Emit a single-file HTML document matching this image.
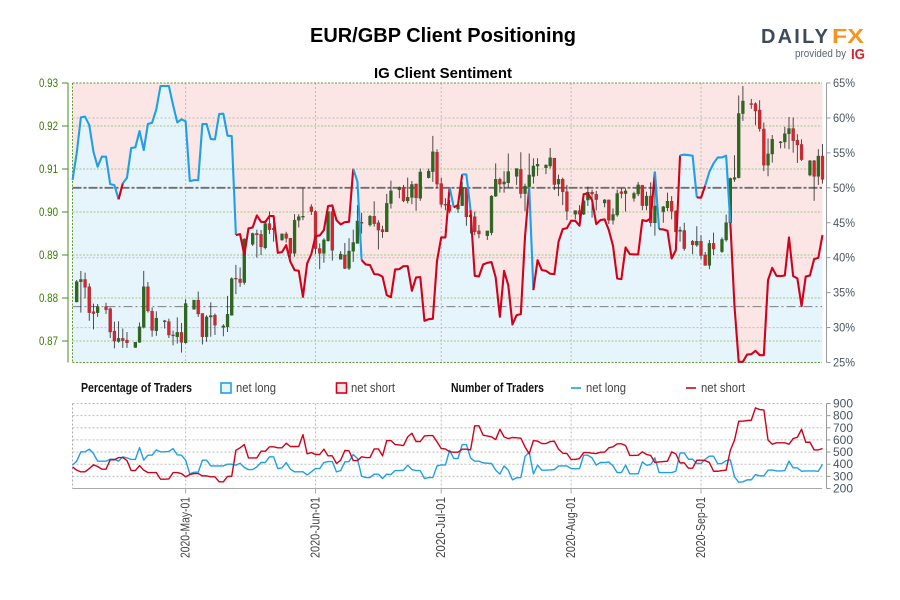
<!DOCTYPE html>
<html lang="en">
<head>
<meta charset="utf-8">
<title>EUR/GBP Client Positioning</title>
<style>
html,body{margin:0;padding:0;background:#fff;width:900px;height:600px;overflow:hidden}
svg{display:block}
text{font-family:"Liberation Sans Narrow","Liberation Sans",sans-serif}
.wide{font-family:"Liberation Sans",sans-serif}
</style>
</head>
<body>
<svg id="chart" xmlns="http://www.w3.org/2000/svg" width="900" height="600" viewBox="0 0 900 600">
  <text class="wide" x="310" y="42" font-size="20" font-weight="bold" fill="#000" textLength="266" lengthAdjust="spacingAndGlyphs">EUR/GBP Client Positioning</text>
  <text class="wide" x="374" y="78" font-size="15" font-weight="bold" fill="#000" textLength="138" lengthAdjust="spacingAndGlyphs">IG Client Sentiment</text>

  <g>
    <text class="wide" x="761" y="43" font-size="20" font-weight="bold" fill="#3f4a5a" textLength="67" lengthAdjust="spacing">DAILY</text>
    <text class="wide" x="832" y="43" font-size="20" font-weight="bold" fill="#f7941d" textLength="32" lengthAdjust="spacingAndGlyphs">FX</text>
    <text class="wide" x="795" y="57" font-size="11" fill="#5b6570" textLength="51" lengthAdjust="spacingAndGlyphs">provided by</text>
    <text class="wide" x="851" y="59" font-size="15" font-weight="bold" fill="#d9202c" textLength="14" lengthAdjust="spacingAndGlyphs">IG</text>
  </g>

  <g id="main-panel"></g>

  <g>
    <text x="81" y="392" font-size="12.5" font-weight="bold" fill="#111" textLength="111" lengthAdjust="spacingAndGlyphs">Percentage of Traders</text>
    <rect x="221" y="383" width="10" height="10" fill="#e6f4fc" stroke="#1fa0e6" stroke-width="1.6"/>
    <text x="236" y="392" font-size="12.5" fill="#444" textLength="40" lengthAdjust="spacingAndGlyphs">net long</text>
    <rect x="336.500" y="383" width="10" height="10" fill="#fbe5e5" stroke="#d0021b" stroke-width="1.6"/>
    <text x="351" y="392" font-size="12.5" fill="#444" textLength="44" lengthAdjust="spacingAndGlyphs">net short</text>
    <text x="451" y="392" font-size="12.5" font-weight="bold" fill="#111" textLength="93" lengthAdjust="spacingAndGlyphs">Number of Traders</text>
    <line x1="571" x2="581" y1="388" y2="388" stroke="#1fa0e6" stroke-width="1.6"/>
    <text x="586" y="392" font-size="12.5" fill="#444" textLength="40" lengthAdjust="spacingAndGlyphs">net long</text>
    <line x1="686" x2="696" y1="388" y2="388" stroke="#d0021b" stroke-width="1.6"/>
    <text x="701" y="392" font-size="12.5" fill="#444" textLength="44" lengthAdjust="spacingAndGlyphs">net short</text>
  </g>

  <g id="lower-panel"></g>
</svg>

<script>
// ---- axis tick data ----
const dateLabels = ["2020-May-01","2020-Jun-01","2020-Jul-01","2020-Aug-01","2020-Sep-01"];
const dateDays = [27,58,88,119,150];
const priceTicks = [9300,9200,9100,9000,8900,8800,8700];
const priceTickLabels = ["0.93","0.92","0.91","0.90","0.89","0.88","0.87"];
const pctTicks = [65,60,55,50,45,40,35,30,25];
const pctGridTicks = [60,40,30];
const countTicks = [900,800,700,600,500,400,300,200];

// ---- candles: prices in pips (value / 10000) ----
const candleDays = [1,2,3,4,5,6, 8,9,10,11,12,13, 15,16,17,18,19,20, 22,23,24,25,26,27, 29,30,31,32,33,34, 36,37,38,39,40,41, 43,44,45,46,47,48, 50,51,52,53,54,55, 57,58,59,60,61,62, 64,65,66,67,68,69, 71,72,73,74,75,76, 78,79,80,81,82,83, 85,86,87,88,89,90, 92,93,94,95,96,97, 99,100,101,102,103,104, 106,107,108,109,110,111, 113,114,115,116,117,118, 120,121,122,123,124,125, 127,128,129,130,131,132, 134,135,136,137,138,139, 141,142,143,144,145,146, 148,149,150,151,152,153, 155,156,157,158,159,160, 162,163,164,165,166,167, 169,170,171,172,173,174, 176,177,178,179];
const candleOpen = [8791,8838,8843,8826,8768,8766, 8780,8775,8723,8699,8706,8702, 8685,8697,8732,8826,8769,8724, 8745,8745,8714,8710,8720,8696, 8774,8795,8764,8710,8756,8760, 8732,8733,8760,8846,8844,8836, 8925,8950,8948,8917,8973,8962, 8935,8949,8939,8904,8981,8989, 9012,9001,8915,8904,8933,9001, 8890,8900,8869,8909,8927,8976, 8970,8990,8975,8959,8954,9020, 9052,9057,9026,9034,9065,9032, 9080,9094,9139,9066,9018,9016, 9007,9015,9057,8989,8989,8956, 8945,8952,9037,9076,9065,9068, 9083,9099,9043,9059,9083,9107, 9103,9107,9125,9065,9076,9047, 8995,9003,8995,9028,9046,9041, 9021,9028,8981,8993,9047,9043, 9032,9042,9062,9015,9037,8975, 9001,9010,9025,9002,8955,8957, 8932,8923,8932,8900,8876,8927, 8908,8935,8975,9076,9080,9229, 9252,9252,9237,9193,9109,9135, 9161,9163,9182,9194,9167,9157, 9086,9119,9083,9130];
const candleClose = [8838,8843,8825,8766,8764,8780, 8773,8721,8700,8706,8701,8696, 8697,8733,8826,8770,8725,8753, 8747,8714,8712,8720,8697,8787, 8795,8763,8710,8756,8759,8737, 8735,8762,8845,8845,8836,8937, 8950,8947,8919,8973,8959,8959, 8949,8939,8904,8981,8989,8990, 9001,8915,8904,8935,9001,8911, 8902,8869,8909,8929,8979,8974, 8990,8973,8958,8954,9020,9049, 9057,9026,9034,9064,9033,9093, 9095,9140,9065,9018,9016,9002, 9016,9056,8989,8993,8954,8949, 8956,9037,9076,9065,9070,9094, 9101,9043,9060,9086,9107,9111, 9109,9126,9064,9076,9047,9002, 9003,8995,9026,9046,9042,9029, 9028,8981,8994,9043,9043,9049, 9043,9063,9015,9037,8975,9014, 9012,9025,9002,8954,8958,8915, 8924,8932,8899,8876,8927,8914, 8936,8975,9078,9080,9229,9258, 9250,9235,9194,9109,9135,9169, 9163,9182,9194,9166,9156,9122, 9119,9083,9130,9076];
const candleHigh = [8842,8863,8859,8834,8787,8786, 8789,8778,8745,8746,8729,8721, 8697,8743,8863,8837,8778,8769, 8749,8752,8724,8755,8742,8797, 8795,8815,8764,8760,8790,8764, 8739,8805,8848,8877,8871,8939, 8952,8959,8958,8981,9001,8990, 8950,8954,8939,8995,8995,9056, 9018,9004,8927,8939,9001,9016, 8909,8928,8939,8959,9016,8998, 8993,9025,8981,8968,9042,9073, 9059,9063,9080,9072,9066,9101, 9101,9177,9146,9080,9032,9028, 9020,9070,9057,9001,9001,8970, 8956,9039,9113,9080,9095,9136, 9101,9139,9066,9136,9125,9125, 9111,9149,9126,9087,9080,9063, 9004,9016,9035,9059,9052,9049, 9030,9029,9008,9052,9055,9055, 9047,9070,9063,9047,9069,9094, 9014,9045,9037,9004,8966,8975, 8935,8967,8946,8907,8935,8952, 8941,8994,9080,9132,9271,9293, 9263,9255,9260,9208,9171,9179, 9165,9198,9221,9220,9181,9169, 9121,9121,9146,9158];
const candleLow = [8790,8766,8799,8747,8727,8756, 8763,8707,8683,8696,8684,8684, 8684,8696,8729,8766,8710,8712, 8729,8707,8690,8694,8673,8694, 8773,8756,8692,8698,8710,8714, 8711,8721,8759,8809,8826,8831, 8921,8894,8900,8913,8949,8931, 8933,8929,8892,8896,8964,8981, 8993,8902,8867,8882,8931,8887, 8890,8867,8865,8884,8927,8950, 8966,8966,8913,8940,8954,9008, 9032,9023,9020,9018,9003,9026, 9078,9070,9057,9011,9004,8997, 8998,9014,8968,8950,8946,8939, 8935,8946,9035,9045,9045,9057, 9063,9032,9002,9057,9066,9084, 9088,9101,9051,9037,9016,8981, 8983,8981,8993,9014,8987,9004, 9011,8972,8971,8989,9032,9001, 9024,9037,9004,9004,8966,8945, 8975,9002,8983,8952,8931,8910, 8902,8919,8890,8875,8867,8900, 8905,8931,8975,9070,9078,9212, 9240,9202,9187,9095,9083,9115, 9148,9148,9146,9138,9114,9119, 9083,9026,9063,9066];

// ---- percentage of traders net long, one value per calendar day ----
const pctLong = [51.1,54.93,60.08,60.18,58.98,55.17,53.02,54.45,54.45,50.53,50.39,48.34,50.63,51.44,55.69,55.79,58.12,55.4,59.13,59.32,61.23,64.57,64.57,64.57,61.85,59.37,59.8,59.51,50.96,51.1,51.1,59.13,59.13,56.98,56.93,60.56,60.61,57.46,57.41,43.23,43.37,40.37,44.19,44.33,46.05,45.14,45.09,45.95,45.95,40.7,40.8,41.8,39.41,38.22,38.12,34.4,39.17,40.51,43.09,43.18,43.95,47.39,47.48,45.38,44.76,45.09,45.14,52.73,50.87,39.65,39.03,38.94,37.65,37.6,37.27,34.64,34.35,38.32,38.36,38.79,38.79,35.26,37.17,37.22,30.96,31.2,31.25,39.56,42.9,42.9,50.1,47.19,47.53,51.92,51.92,46.81,37.41,37.31,39.03,39.27,39.37,37.17,31.54,38.12,36.07,30.44,31.78,31.92,43,50.1,35.36,39.65,38.22,38.12,37.7,37.65,42.28,44.09,44.23,45.28,45.28,44.57,49.1,49.2,48.24,44.81,45.38,45.48,43.95,41.7,37.03,36.93,41.47,40.51,40.46,40.46,45.38,45.24,45.62,52.3,44.09,44.04,43.85,39.89,41.08,54.64,54.74,54.69,54.59,48.63,48.58,50.3,52.3,53.5,54.35,54.35,54.59,45,32.97,25.1,25.1,26.14,26.19,26.67,26.05,26.05,36.79,38.55,37.41,37.36,37.46,42.9,37.36,37.03,33.07,37.31,37.46,39.8,39.99,43.23];

// ---- number of traders, one value per calendar day ----
const countLong = [392,425,502,502,524,488,425,425,425,441,441,425,461,452,439,439,537,433,474,474,518,502,502,505,529,477,474,433,321,334,334,433,433,386,386,386,386,400,400,392,408,373,356,356,378,414,414,461,461,364,370,414,359,337,337,337,312,337,364,364,414,422,422,337,348,419,422,480,447,301,290,290,318,318,282,318,315,348,348,351,392,356,348,348,282,290,290,386,394,394,515,447,447,562,562,452,425,425,411,408,406,351,318,386,351,271,288,290,463,502,321,392,351,351,353,356,386,386,386,364,362,364,474,474,452,392,414,414,419,386,331,331,392,321,321,321,419,392,397,452,331,331,331,331,342,493,493,441,441,406,406,441,466,466,403,406,430,436,296,252,255,271,271,315,304,304,351,353,345,345,348,425,370,370,342,345,345,345,342,400];
const countShort = [378,351,337,337,364,395,381,359,359,436,436,455,455,430,348,348,389,351,331,331,331,277,277,279,331,331,323,296,315,323,323,304,304,296,296,255,255,299,301,515,535,562,452,452,452,507,507,543,543,535,535,573,546,546,546,644,485,496,480,480,524,469,469,406,433,513,510,430,430,461,455,455,526,526,469,595,595,562,559,554,625,655,587,587,633,636,636,584,529,526,502,499,499,524,524,518,716,716,639,633,625,603,688,625,611,620,617,614,543,485,595,590,570,570,587,590,524,491,488,439,439,447,496,496,491,488,499,499,535,543,568,568,554,472,472,474,502,480,472,414,419,422,425,502,485,411,411,367,367,433,433,430,414,342,342,348,351,515,598,754,754,760,762,864,850,847,598,565,576,576,576,565,611,622,688,581,581,518,518,529];

// ---- reference levels ----
const evenLevel = 50;
const lowerLevel = 33;
const lineSwitchLevel = 50;

// ---- axis functions ----
const PLOT_LEFT = 72.5, PLOT_RIGHT = 822, PLOT_TOP = 83, PLOT_BOTTOM = 362.5;
const LOW_TOP = 403.5, LOW_BOTTOM = 488.5;
const AXIS_RIGHT_X = 826.5, AXIS_LEFT_X = 68;
function xDay(d){ return PLOT_LEFT + d * 4.19; }
function yPrice(p){ return PLOT_TOP + (9300 - p) * 0.43; }
function yPct(p){ return PLOT_TOP + (65 - p) * (PLOT_BOTTOM - PLOT_TOP) / 40; }
function yCount(v){ return LOW_TOP + (900 - v) * (LOW_BOTTOM - LOW_TOP) / 700; }

const NS = "http://www.w3.org/2000/svg";
function mk(tag, attrs, parent){
  const e = document.createElementNS(NS, tag);
  for (const k in attrs) e.setAttribute(k, attrs[k]);
  parent.appendChild(e);
  return e;
}
function pts(values, yFn){
  return values.map(function(v,i){ return xDay(i).toFixed(2) + "," + yFn(v).toFixed(2); }).join(" ");
}

const main = document.getElementById("main-panel");
const lower = document.getElementById("lower-panel");
const lastDay = pctLong.length - 1;

// Background fills
const bgShort = mk("rect", {x:PLOT_LEFT, y:PLOT_TOP, width:xDay(lastDay)-PLOT_LEFT, height:PLOT_BOTTOM-PLOT_TOP, fill:"#fbe5e5"}, main);


const areaPts = PLOT_LEFT + "," + PLOT_BOTTOM + " " + pts(pctLong, yPct) + " " + xDay(lastDay).toFixed(2) + "," + PLOT_BOTTOM;
const bgLong = mk("polygon", {points:areaPts, fill:"#e6f4fc"}, main);



// Grid: vertical
dateDays.forEach(function(d){
  const g = mk("line", {x1:xDay(d), x2:xDay(d), y1:PLOT_TOP, y2:PLOT_BOTTOM, stroke:"#bdbdbd", "stroke-width":1, "stroke-dasharray":"2 2"}, main);
  
  
});
// Grid: sentiment
pctGridTicks.forEach(function(p){
  const g = mk("line", {x1:PLOT_LEFT, x2:PLOT_RIGHT, y1:yPct(p), y2:yPct(p), stroke:"#c2bcbc", "stroke-width":1, "stroke-dasharray":"2 2"}, main);
  
  
});
// Grid: price
priceTicks.forEach(function(p){
  if (p === 9300) return;
  const g = mk("line", {x1:PLOT_LEFT, x2:PLOT_RIGHT, y1:yPrice(p), y2:yPrice(p), stroke:"#b4d09c", "stroke-width":1.3, "stroke-dasharray":"2 1.5"}, main);
  
  
});

// Plot border
const bTop = mk("line", {x1:PLOT_LEFT, x2:PLOT_RIGHT, y1:PLOT_TOP, y2:PLOT_TOP, stroke:"#5f9a35", "stroke-width":1, "stroke-dasharray":"2 1.5"}, main);


const bBot = mk("line", {x1:PLOT_LEFT, x2:PLOT_RIGHT, y1:PLOT_BOTTOM, y2:PLOT_BOTTOM, stroke:"#5f9a35", "stroke-width":1, "stroke-dasharray":"2 1.5"}, main);


const bLeft = mk("line", {x1:PLOT_LEFT, x2:PLOT_LEFT, y1:PLOT_TOP, y2:PLOT_BOTTOM, stroke:"#5f9a35", "stroke-width":1, "stroke-dasharray":"2 1.5"}, main);



// Reference lines
const ref50 = mk("line", {x1:PLOT_LEFT, x2:PLOT_RIGHT, y1:yPct(evenLevel), y2:yPct(evenLevel), stroke:"#6f6f6f", "stroke-width":1.8, "stroke-dasharray":"9 2 3 2"}, main);


const ref33 = mk("line", {x1:PLOT_LEFT, x2:PLOT_RIGHT, y1:yPct(lowerLevel), y2:yPct(lowerLevel), stroke:"#7d7d7d", "stroke-width":1, "stroke-dasharray":"9 3 2 3"}, main);



// Candles
candleDays.forEach(function(d,i){
  const x = xDay(d);
  const up = candleClose[i] >= candleOpen[i];
  const wick = mk("line", {x1:x, x2:x, y1:yPrice(candleHigh[i]), y2:yPrice(candleLow[i]), stroke:"#1a1a1a", "stroke-width":0.9, "stroke-opacity":0.85}, main);
  
  
  const top = yPrice(Math.max(candleOpen[i], candleClose[i]));
  const bot = yPrice(Math.min(candleOpen[i], candleClose[i]));
  const body = mk("rect", {x:x-1.4, y:top, width:2.8, height:Math.max(bot-top,0.8), fill: up ? "#2a6b1a" : "#e0202a", stroke: up ? "#3b5a34" : "#8a3a3a", "stroke-width":0.5}, main);
  
  
});

// Sentiment line: colour of each segment follows its starting value
(function(){
  let start = 0;
  for (let i = 1; i <= pctLong.length; i++){
    const isLong = pctLong[start] >= lineSwitchLevel;
    if (i === pctLong.length || (pctLong[i] >= lineSwitchLevel) !== isLong){
      const end = Math.min(i, pctLong.length - 1);
      const seg = mk("polyline", {points: pts(pctLong.slice(start, end + 1), yPct).split(" ").map(function(p,k){
        const c = p.split(","); return xDay(start + k).toFixed(2) + "," + c[1];
      }).join(" "), fill:"none", stroke: isLong ? "#1fa0e6" : "#d0021b", "stroke-width":2.1, "stroke-linejoin":"round"}, main);
      
      
      start = i;
    }
  }
})();

// Left price axis
const leftAxis = mk("line", {x1:AXIS_LEFT_X, x2:AXIS_LEFT_X, y1:PLOT_TOP, y2:PLOT_BOTTOM, stroke:"#3f8f1f", "stroke-width":1}, main);


priceTicks.forEach(function(p,i){
  const t = mk("line", {x1:AXIS_LEFT_X-6, x2:AXIS_LEFT_X, y1:yPrice(p), y2:yPrice(p), stroke:"#3f8f1f", "stroke-width":1}, main);
  
  
  const l = mk("text", {x:39, y:yPrice(p)+4, "font-size":12, fill:"#3a7d00", textLength:19, lengthAdjust:"spacingAndGlyphs"}, main);
  l.textContent = priceTickLabels[i];
  
  
});

// Right sentiment axis
const rightAxis = mk("line", {x1:AXIS_RIGHT_X, x2:AXIS_RIGHT_X, y1:PLOT_TOP, y2:PLOT_BOTTOM, stroke:"#999", "stroke-width":1}, main);


pctTicks.forEach(function(p){
  const t = mk("line", {x1:AXIS_RIGHT_X, x2:AXIS_RIGHT_X+4, y1:yPct(p), y2:yPct(p), stroke:"#999", "stroke-width":1}, main);
  
  
  const l = mk("text", {x:833, y:yPct(p)+4, "font-size":12, fill:"#4a5560", textLength:22, lengthAdjust:"spacingAndGlyphs"}, main);
  l.textContent = p + "%";
  
  
});

// Lower panel grid
countTicks.forEach(function(v){
  if (v === 200) return;
  const g = mk("line", {x1:PLOT_LEFT, x2:PLOT_RIGHT, y1:yCount(v), y2:yCount(v), stroke:"#bdbdbd", "stroke-width":1, "stroke-dasharray":"2 2"}, lower);
  
  
});
const lowLeft = mk("line", {x1:PLOT_LEFT, x2:PLOT_LEFT, y1:LOW_TOP, y2:LOW_BOTTOM, stroke:"#aaa", "stroke-width":1, "stroke-dasharray":"2 2"}, lower);


dateDays.forEach(function(d,i){
  const g = mk("line", {x1:xDay(d), x2:xDay(d), y1:LOW_TOP, y2:LOW_BOTTOM, stroke:"#bdbdbd", "stroke-width":1, "stroke-dasharray":"2 2"}, lower);
  
  
  const t = mk("line", {x1:xDay(d), x2:xDay(d), y1:LOW_BOTTOM, y2:LOW_BOTTOM+5, stroke:"#aaa", "stroke-width":1}, lower);
  
  
  const bx = xDay(d) + 4;
  const l = mk("text", {x:bx, y:558, "font-size":12.5, fill:"#444", textLength:61, lengthAdjust:"spacingAndGlyphs", transform:"rotate(-90 " + bx + " 558)"}, lower);
  l.textContent = dateLabels[i];
  
  
});
const lowBase = mk("line", {x1:PLOT_LEFT, x2:PLOT_RIGHT, y1:LOW_BOTTOM, y2:LOW_BOTTOM, stroke:"#aaa", "stroke-width":1}, lower);



// Lower panel series
const longLine = mk("polyline", {points:pts(countLong, yCount), fill:"none", stroke:"#1fa0e6", "stroke-width":1.4, "stroke-linejoin":"round"}, lower);


const shortLine = mk("polyline", {points:pts(countShort, yCount), fill:"none", stroke:"#d0021b", "stroke-width":1.4, "stroke-linejoin":"round"}, lower);



// Lower right axis
const lowAxis = mk("line", {x1:AXIS_RIGHT_X, x2:AXIS_RIGHT_X, y1:LOW_TOP, y2:LOW_BOTTOM, stroke:"#999", "stroke-width":1}, lower);


countTicks.forEach(function(v){
  const t = mk("line", {x1:AXIS_RIGHT_X, x2:AXIS_RIGHT_X+4, y1:yCount(v), y2:yCount(v), stroke:"#999", "stroke-width":1}, lower);
  
  
  const l = mk("text", {x:833, y:yCount(v)+4, "font-size":12, fill:"#4a5560", textLength:20, lengthAdjust:"spacingAndGlyphs"}, lower);
  l.textContent = v;
  
  
});
</script>
</body>
</html>
